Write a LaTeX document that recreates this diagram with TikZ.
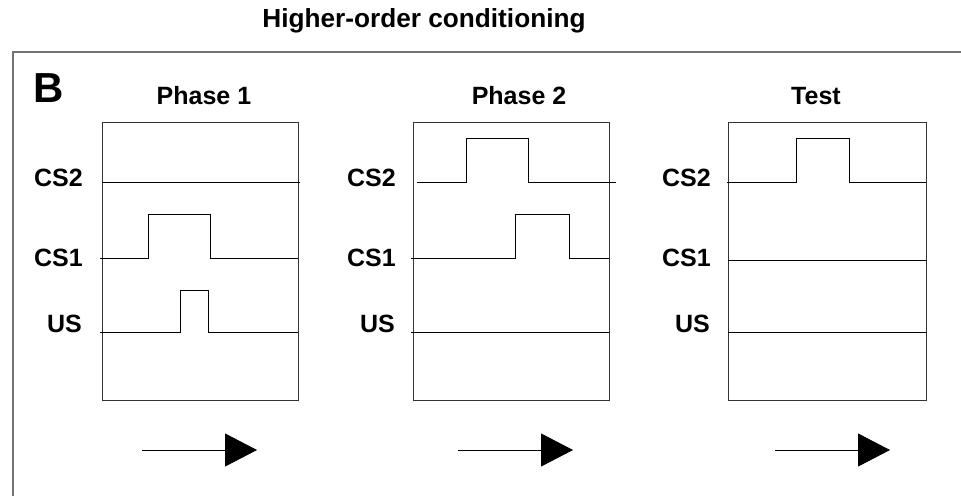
\documentclass[tikz,border=0pt]{standalone}
\usepackage{fontspec}
\setmainfont{Liberation Sans}
\usetikzlibrary{arrows.meta}
\begin{document}
\begin{tikzpicture}[x=1pt,y=-1pt,
  lbl/.style={font=\fontsize{25}{27}\selectfont\bfseries, anchor=base east, inner sep=0pt},
  ttl/.style={font=\fontsize{25}{27}\selectfont\bfseries, anchor=base, inner sep=0pt},
  sig/.style={line width=1pt, black},
  boxline/.style={line width=1pt, draw=black!80},
  timearrow/.style={line width=0.8pt, -{Triangle[length=32pt,width=33pt]}}]
\useasboundingbox (0,0) rectangle (961,496);
% header
\node[ttl, font=\fontsize{26.2}{28}\selectfont\bfseries] (title) at (424,27) {Higher-order conditioning};
\draw[line width=1.8pt, black!55] (961,52) -- (13,52) -- (13,496);
\node[font=\fontsize{42}{44}\selectfont\bfseries, anchor=base, inner sep=0pt] (B) at (49,102) {B};
% panel titles
\node[ttl] (p1) at (204,104) {Phase 1};
\node[ttl] (p2) at (519,104) {Phase 2};
\node[ttl] (p3) at (816,104) {Test};
% boxes
\draw[boxline] (102,122) rectangle (298,400);
\draw[boxline] (413,122) rectangle (609,400);
\draw[boxline] (728,122) rectangle (926,400);
% labels
\foreach \x/\n in {83/a,396/b,711/c}{
  \node[lbl] (cs2\n) at (\x,186) {CS2};
  \node[lbl] (cs1\n) at (\x,266) {CS1};
  \node[lbl] (us\n) at (\x-1,332) {US};
}
% phase 1 signals
\draw[sig] (102,182) -- (300,182);
\draw[sig] (100,258) -- (148,258) -- (148,214) -- (210,214) -- (210,258) -- (298,258);
\draw[sig] (100,332) -- (180,332) -- (180,290) -- (208,290) -- (208,332) -- (298,332);
% phase 2 signals
\draw[sig] (417,182) -- (466,182) -- (466,138) -- (528,138) -- (528,182) -- (616,182);
\draw[sig] (411,258) -- (515,258) -- (515,214) -- (569,214) -- (569,258) -- (609,258);
\draw[sig] (411,332) -- (609,332);
% test signals
\draw[sig] (727,182) -- (796,182) -- (796,138) -- (849,138) -- (849,182) -- (926,182);
\draw[sig] (728,260) -- (927,260);
\draw[sig] (728,332) -- (927,332);
% time arrows
\coordinate (a1s) at (142,450); \coordinate (a1e) at (257,450);
\coordinate (a2s) at (458,450); \coordinate (a2e) at (573,450);
\coordinate (a3s) at (775,450); \coordinate (a3e) at (890,450);
\draw[timearrow] (a1s) -- (a1e);
\draw[timearrow] (a2s) -- (a2e);
\draw[timearrow] (a3s) -- (a3e);
\end{tikzpicture}
\end{document}
